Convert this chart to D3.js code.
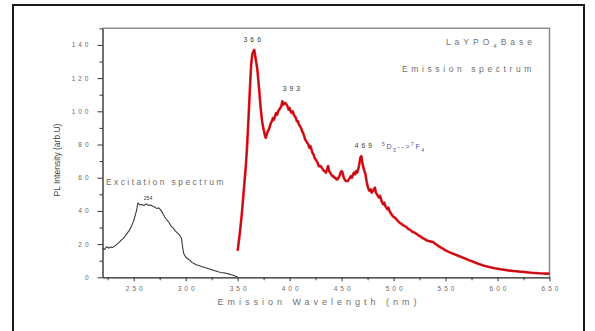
<!DOCTYPE html>
<html>
<head>
<meta charset="utf-8">
<script src="https://cdn.jsdelivr.net/npm/d3@7"></script>
<style>
  html, body { margin: 0; padding: 0; background: #fff; }
  svg { display: block; font-family: "Liberation Sans", Arial, sans-serif; }
</style>
</head>
<body>
<svg id="chart" width="595" height="331"></svg>
<script>
// Excitation spectrum (black trace)
const excitationNm = [220,222,224,226,228,230,232,234,236,238,240,242,244,246,248,250,252,253,254,256,258,260,262,264,266,268,270,272,274,276,278,280,282,284,286,288,290,292,294,296,297,298,300,302,304,306,308,310,312,314,316,318,320,322,324,326,328,330,332,334,336,338,340,342,344,346,348,350];
const excitationPL = [17.5,16.8,18.4,17.6,18.2,18.0,18.9,20.0,21.0,22.4,23.5,25.0,26.8,28.4,31.0,34.0,38.5,41.0,44.8,43.6,43.8,43.2,44.2,43.4,43.6,42.9,42.4,41.5,41.8,40.6,38.5,36.2,34.5,33.0,30.8,29.6,28.0,26.8,25.6,23.4,18.5,14.5,12.2,11.2,10.2,9.0,8.3,7.6,7.2,6.8,6.3,6.0,5.6,5.2,4.8,4.4,4.0,3.6,3.2,2.9,2.7,2.5,2.3,1.9,1.5,1.2,0.6,0.1];

// Emission spectrum (red trace)
const emissionNm = [350,352,354,356,358,359,360,361,362,363,364,365,366,367,368,369,370,371,372,373,374,375,376,377,378,379,380,381,382,383,384,385,386,387,388,389,390,391,392,393,394,395,396,397,398,399,400,401,402,403,404,405,406,407,408,409,410,411,412,413,414,415,416,417,418,419,420,421,422,423,424,425,426,427,428,429,430,431,432,433,434,435,436,437,438,439,440,441,442,443,444,445,446,447,448,449,450,451,452,453,454,455,456,457,458,459,460,461,462,463,464,465,466,467,468,469,470,471,472,473,474,475,476,477,478,479,480,481,482,483,484,485,486,487,488,489,490,491,492,493,494,495,496,497,498,499,500,502,504,506,508,510,512,514,516,518,520,522,524,526,528,530,532,534,536,538,540,542,544,546,548,550,552,554,556,558,560,562,564,566,568,570,573,576,579,582,585,588,591,594,597,600,603,606,609,612,615,618,621,624,627,630,633,636,640,644,648,650];
const emissionPL = [16,26,38,53,68,78,90,103,116,128,134,136,137,133,129,125,118,111,103,97,92,89,86,84,86,88,89,91,93,94,96,95,97,99,98,100,101,102,103,106,104,105,105,104,103,101,102,100,99,100,98,97,96,94,94,92,91,90,88,87,85,83,82,81,80,78,79,77,75,74,72,71,70,69,67,67,67,66,65,64,64,63,65,67,64,63,62,61,61,60,60,59,59,60,61,63,64,63,60,59,58,58,58,59,60,61,60,62,63,62,64,63,65,68,72,73,69,66,64,62,58,55,53,52,53,51,52,53,54,51,50,49,48,49,47,45,44,45,43,42,41,42,40,39,38,37,36.5,35.5,34,32.8,32,31,30.5,29.2,28.6,27.4,27,26.2,25.2,24.6,23.6,23,22.2,21.8,21.5,21.3,20.2,19.4,18.5,17.8,17.0,16.2,15.6,15,14.5,14,13.5,13,12.5,12,11.5,11,10.2,9.5,8.8,8,7.4,6.8,6.3,5.9,5.5,5.2,4.9,4.6,4.3,4.0,3.8,3.6,3.4,3.3,3.1,2.9,2.7,2.6,2.4,2.3,2.2,2.2];

// Axis ticks
const xTicks = [250,300,350,400,450,500,550,600,650];
const xMinorTicks = [225,275,325,375,425,475,525,575,625];
const yTicks = [0,20,40,60,80,100,120,140];
const yMinorTicks = [10,30,50,70,90,110,130,150];

// Annotated peak wavelengths
const emissionPeaks = [366, 393, 469];
const excitationPeaks = [254];

const svg = d3.select("#chart");

const x = d3.scaleLinear().domain([220, 650]).range([102.5, 549.5]);
const y = d3.scaleLinear().domain([0, 150]).range([277.3, 28.3]);

// outer frame
svg.append("rect")
  .attr("x", 13).attr("y", 5).attr("width", 571).attr("height", 340)
  .attr("fill", "none").attr("stroke", "#1a1a1a").attr("stroke-width", 2);

// top & right plot border
svg.append("path")
  .attr("d", `M${x(220)},${y(150)}H${x(650)}V${y(0)}`)
  .attr("fill", "none").attr("stroke", "#8c8c8c").attr("stroke-width", 1.5);

const tickFont = g => g.selectAll("text")
  .attr("fill", "#6a6a6a")
  .style("font-size", "6.5px")
  .style("letter-spacing", "3px");

// bottom axis
const gx = svg.append("g").attr("transform", `translate(0,${y(0)})`);
gx.call(d3.axisBottom(x).tickValues(xTicks).tickSize(4).tickSizeOuter(0).tickPadding(5.5).tickFormat(d3.format("d")))
  .call(tickFont)
  .call(g => g.selectAll("text").attr("dx", "1.5px"));
gx.select(".domain").attr("stroke", "#222").attr("stroke-width", 1.3);
gx.selectAll(".tick line").attr("stroke", "#333");
svg.append("g").attr("transform", `translate(0,${y(0)})`)
  .call(d3.axisBottom(x).tickValues(xMinorTicks).tickSize(3).tickFormat(""))
  .call(g => g.select(".domain").remove())
  .call(g => g.selectAll(".tick line").attr("stroke", "#333"));

// left axis
const gy = svg.append("g").attr("transform", `translate(${x(220)},0)`);
gy.call(d3.axisLeft(y).tickValues(yTicks).tickSize(5).tickSizeOuter(0).tickPadding(6).tickFormat(d3.format("d")))
  .call(tickFont);
gy.select(".domain").attr("stroke", "#222").attr("stroke-width", 1.3);
gy.selectAll(".tick line").attr("stroke", "#333");
svg.append("g").attr("transform", `translate(${x(220)},0)`)
  .call(d3.axisLeft(y).tickValues(yMinorTicks).tickSize(3).tickFormat(""))
  .call(g => g.select(".domain").remove())
  .call(g => g.selectAll(".tick line").attr("stroke", "#333"));

// traces
const line = d3.line().x(d => x(d[0])).y(d => y(d[1]));
const excitation = excitationNm.map((n, i) => [n, excitationPL[i]]);
const emission = emissionNm.map((n, i) => [n, emissionPL[i]]);

svg.append("path").datum(excitation)
  .attr("d", line).attr("fill", "none")
  .attr("stroke", "#3a3a3a").attr("stroke-width", 1.1).attr("stroke-linejoin", "round");

svg.append("path").datum(emission)
  .attr("d", line).attr("fill", "none")
  .attr("stroke", "#f0141f").attr("stroke-width", 2.6).attr("stroke-linejoin", "round");
svg.append("path").datum(emission)
  .attr("d", line).attr("fill", "none")
  .attr("stroke", "#5a0808").attr("stroke-width", 0.6).attr("stroke-opacity", 0.85)
  .attr("stroke-linejoin", "round");

// peak labels
const emissionAt = nm => emissionPL[emissionNm.indexOf(nm)];
const excitationAt = nm => excitationPL[excitationNm.indexOf(nm)];
const peakOffsets = { 366: [-2, -8], 393: [9, -10], 469: [2, -8] };
emissionPeaks.forEach(nm => {
  const [dx, dy] = peakOffsets[nm];
  svg.append("text")
    .attr("x", x(nm) + dx + 1.5).attr("y", y(emissionAt(nm)) + dy)
    .attr("text-anchor", "middle")
    .attr("fill", "#2f3d2f")
    .style("font-size", "6.8px").style("letter-spacing", "3px")
    .text(nm);
});
excitationPeaks.forEach(nm => {
  svg.append("text")
    .attr("x", x(nm) + 6).attr("y", y(excitationAt(nm)) - 3)
    .attr("fill", "#333")
    .style("font-size", "5px")
    .text(nm);
});

// transition label
const trans = svg.append("text")
  .attr("x", 382).attr("y", 149)
  .attr("fill", "#4b4ba8")
  .style("font-size", "7px").style("letter-spacing", "1.6px");
trans.append("tspan").attr("dy", -3).style("font-size", "5px").text("5");
trans.append("tspan").attr("dy", 3).text("D");
trans.append("tspan").attr("dy", 3).style("font-size", "5px").text("3");
trans.append("tspan").attr("dy", -3).text("-->");
trans.append("tspan").attr("dy", -3).style("font-size", "5px").text("7");
trans.append("tspan").attr("dy", 3).text("F");
trans.append("tspan").attr("dy", 3).style("font-size", "5px").text("4");

// captions
const title = svg.append("text")
  .attr("x", 536).attr("y", 45).attr("text-anchor", "end")
  .attr("fill", "#707070")
  .style("font-size", "8.5px").style("letter-spacing", "4px");
title.append("tspan").text("LaYPO");
title.append("tspan").attr("dy", 2.5).style("font-size", "6px").text("4");
title.append("tspan").attr("dy", -2.5).text("Base");

svg.append("text")
  .attr("x", 535).attr("y", 72).attr("text-anchor", "end")
  .attr("fill", "#707070")
  .style("font-size", "8.5px").style("letter-spacing", "3.6px")
  .text("Emission spectrum");

svg.append("text")
  .attr("x", 106).attr("y", 185)
  .attr("fill", "#707070")
  .style("font-size", "8.5px").style("letter-spacing", "2.4px")
  .text("Excitation spectrum");

// axis titles
svg.append("text")
  .attr("x", 319).attr("y", 305).attr("text-anchor", "middle")
  .attr("fill", "#707070")
  .style("font-size", "9px").style("letter-spacing", "4px")
  .text("Emission Wavelength (nm)");

svg.append("text")
  .attr("transform", "translate(60,160) rotate(-90)")
  .attr("text-anchor", "middle")
  .attr("fill", "#444")
  .style("font-size", "8.5px")
  .text("PL Intensity (arb.U)");
</script>
</body>
</html>
